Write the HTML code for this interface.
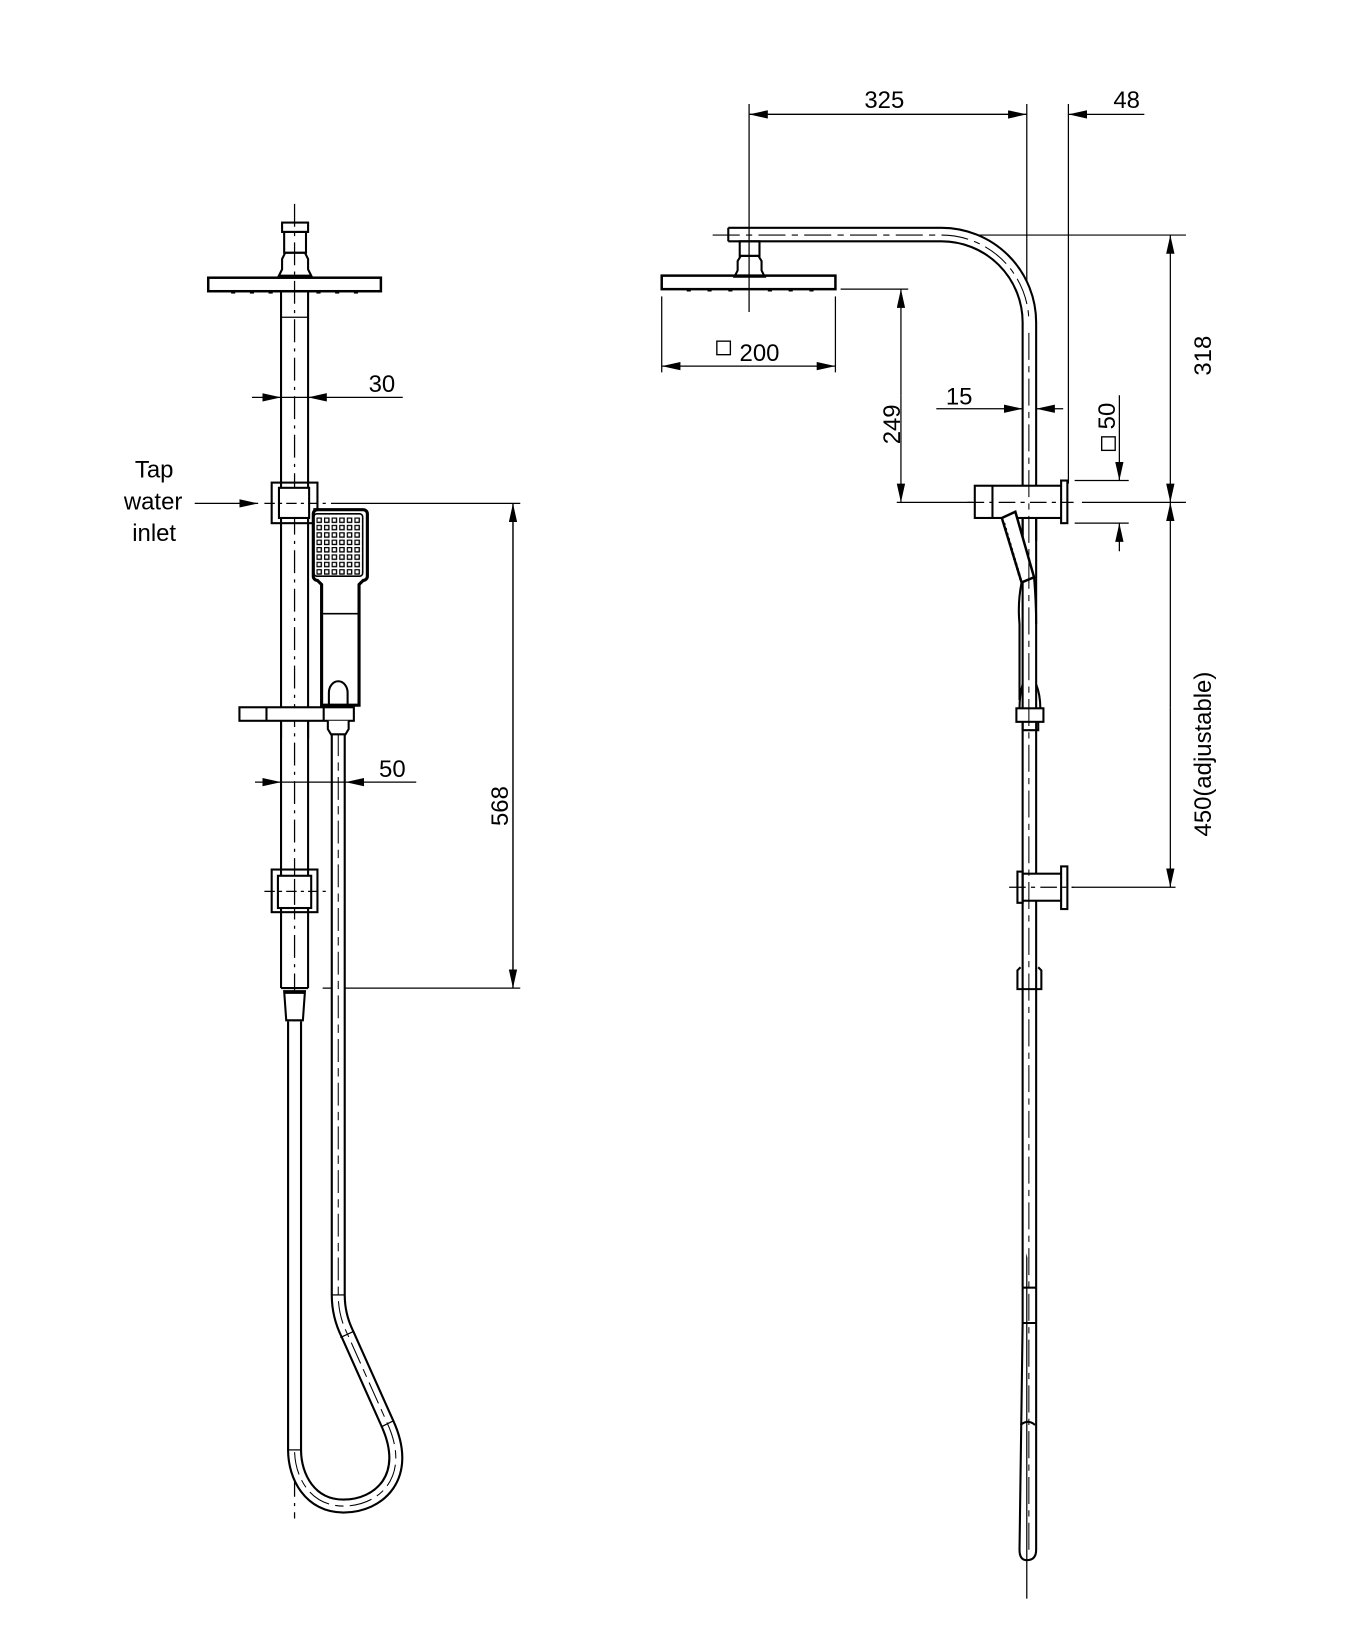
<!DOCTYPE html>
<html><head><meta charset="utf-8"><style>
html,body{margin:0;padding:0;background:#fff;}
svg{display:block;}
text{font-family:"Liberation Sans",sans-serif;fill:#000;}
</style></head><body>
<svg width="1364" height="1634" viewBox="0 0 1311 1571" xmlns="http://www.w3.org/2000/svg">
<defs>
<marker id="a" markerUnits="userSpaceOnUse" markerWidth="20" markerHeight="10" refX="18" refY="4" orient="auto"><path d="M0,0 L18,4 L0,8 Z" fill="#000"/></marker>
<pattern id="g" x="304" y="497.5" width="7.3" height="7.1" patternUnits="userSpaceOnUse"><rect x="0.5" y="0.5" width="4.2" height="4.2" fill="none" stroke="#000" stroke-width="1.3"/></pattern>
</defs>
<rect width="1311" height="1571" fill="#fff"/>
<g fill="none" stroke="#000" stroke-width="2">
<!-- ===== LEFT VIEW ===== -->
<line x1="283" y1="196" x2="283" y2="1460" stroke-width="1.2" stroke-dasharray="22,6,3,6"/>
<rect x="271" y="214" width="25" height="9"/>
<rect x="273" y="223" width="21" height="20"/>
<path d="M274,243 h19 l3,6 v10 l3,6 h-31 l3,-6 v-10 z"/>
<rect x="200" y="267" width="166" height="13" stroke-width="2.4"/>
<g stroke-width="2.5"><line x1="222" y1="281" x2="226" y2="281"/><line x1="240" y1="281" x2="244" y2="281"/><line x1="258" y1="281" x2="262" y2="281"/><line x1="304" y1="281" x2="308" y2="281"/><line x1="322" y1="281" x2="326" y2="281"/><line x1="340" y1="281" x2="344" y2="281"/></g>
<line x1="270" y1="280" x2="270" y2="950"/>
<line x1="296" y1="280" x2="296" y2="950"/>
<line x1="270" y1="305" x2="296" y2="305" stroke-width="1.2"/>
<line x1="270" y1="950" x2="296" y2="950"/>
<line x1="242" y1="382" x2="270" y2="382" marker-end="url(#a)" stroke-width="1.2"/>
<line x1="387" y1="382" x2="296" y2="382" marker-end="url(#a)" stroke-width="1.2"/>
<line x1="270" y1="382" x2="296" y2="382" stroke-width="1.2"/>
<line x1="187" y1="484" x2="248" y2="484" marker-end="url(#a)" stroke-width="1.2"/>
<rect x="261" y="464" width="44" height="39"/>
<rect x="268" y="469" width="29" height="29" fill="#fff"/>
<line x1="254" y1="484" x2="313" y2="484" stroke-width="1.2" stroke-dasharray="10,4,3,4"/>
<line x1="318" y1="484" x2="500" y2="484" stroke-width="1.2"/>
<line x1="493" y1="950" x2="493" y2="484" marker-end="url(#a)" stroke-width="1.2"/>
<line x1="493" y1="484" x2="493" y2="950" marker-end="url(#a)" stroke-width="1.2"/>
<line x1="310" y1="950" x2="500" y2="950" stroke-width="1.2"/>
<!-- handset -->
<path d="M301,490 h48 a4,4 0 0 1 4,4 v60 a4,4 0 0 1 -4,4 l-4,4 v18 v98 h-36 v-98 v-18 l-4,-4 a4,4 0 0 1 -4,-4 v-60 a4,4 0 0 1 4,-4 z" stroke-width="3" fill="#fff"/>
<rect x="301.5" y="494" width="47" height="60" rx="3" stroke-width="1.5"/>
<rect x="304" y="497.5" width="43.8" height="56.8" fill="url(#g)" stroke="none"/>
<line x1="309" y1="590" x2="345" y2="590" stroke-width="1.5"/>
<path d="M316,678 v-12 a9,11 0 0 1 18,0 v12" stroke-width="2"/>
<!-- hose -->
<path d="M325,705 V1245 Q325,1265 334,1283 L372,1368 C396,1420 364,1448 330,1448 C298,1448 283,1420 283,1394 V982" stroke-width="14.5"/>
<path d="M325,705 V1245 Q325,1265 334,1283 L372,1368 C396,1420 364,1448 330,1448 C298,1448 283,1420 283,1394 V982" stroke="#fff" stroke-width="10.4"/>
<path d="M325,705 V1245 Q325,1265 334,1283 L372,1368 C396,1420 364,1448 330,1448 C298,1448 283,1420 283,1394" stroke-width="1" stroke-dasharray="22,6,8,6"/>
<line x1="318" y1="1245" x2="332" y2="1245" stroke-width="1.2"/>
<line x1="277" y1="1394" x2="289" y2="1394" stroke-width="1.2"/>
<line x1="327" y1="1286" x2="340" y2="1280" stroke-width="1.2"/>
<line x1="366" y1="1372" x2="378" y2="1366" stroke-width="1.2"/>
<rect x="230" y="680" width="110" height="13" fill="#fff"/>
<line x1="256" y1="680" x2="256" y2="693"/><line x1="311" y1="680" x2="311" y2="693"/>
<line x1="270" y1="693" x2="270" y2="710"/><line x1="296" y1="693" x2="296" y2="710"/>
<path d="M315,693 v8 l3,5 h14 l3,-5 v-8" fill="#fff"/>
<line x1="245" y1="752" x2="270" y2="752" marker-end="url(#a)" stroke-width="1.2"/>
<line x1="400" y1="752" x2="332" y2="752" marker-end="url(#a)" stroke-width="1.2"/>
<line x1="270" y1="752" x2="332" y2="752" stroke-width="1.2"/>
<rect x="261" y="836" width="44" height="41"/>
<rect x="267" y="842" width="32" height="31" fill="#fff"/>
<line x1="254" y1="857" x2="313" y2="857" stroke-width="1.2" stroke-dasharray="10,4,3,4"/>
<line x1="283" y1="845" x2="283" y2="870" stroke-width="1.2"/>
<path d="M273,953 h20 l-2,28 h-16 z" fill="#fff"/>
<line x1="273" y1="954" x2="293" y2="954" stroke-width="3"/>

<!-- ===== RIGHT VIEW ===== -->
<line x1="987" y1="100" x2="987" y2="1537" stroke-width="1.2"/>
<path d="M700,219 H905 A91,91 0 0 1 996,310 V1238" fill="#fff"/>
<path d="M700,232 H905 A78,78 0 0 1 983,310 V1238"/>
<line x1="700" y1="219" x2="700" y2="232"/>
<path d="M685,226 H905 A84,84 0 0 1 989,310" stroke-width="1" stroke-dasharray="26,6,6,6"/>
<rect x="711" y="232" width="19" height="14"/>
<path d="M712,246 h17 l3,5 v9 l3,6 h-29 l3,-6 v-9 z"/>
<rect x="636" y="265" width="167" height="13" stroke-width="2.4"/>
<g stroke-width="2.5"><line x1="660" y1="279" x2="664" y2="279"/><line x1="680" y1="279" x2="684" y2="279"/><line x1="700" y1="279" x2="704" y2="279"/><line x1="738" y1="279" x2="742" y2="279"/><line x1="758" y1="279" x2="762" y2="279"/><line x1="778" y1="279" x2="782" y2="279"/></g>
<line x1="720" y1="226" x2="720" y2="300" stroke-width="1.2"/>
<line x1="720" y1="100" x2="720" y2="226" stroke-width="1.2"/>
<line x1="1027" y1="100" x2="1027" y2="465" stroke-width="1.2"/>
<line x1="987" y1="110" x2="720" y2="110" marker-end="url(#a)" stroke-width="1.2"/>
<line x1="720" y1="110" x2="987" y2="110" marker-end="url(#a)" stroke-width="1.2"/>
<line x1="1100" y1="110" x2="1027" y2="110" marker-end="url(#a)" stroke-width="1.2"/>
<line x1="636" y1="285" x2="636" y2="358" stroke-width="1.2"/>
<line x1="803" y1="285" x2="803" y2="358" stroke-width="1.2"/>
<line x1="720" y1="352" x2="636" y2="352" marker-end="url(#a)" stroke-width="1.2"/>
<line x1="720" y1="352" x2="803" y2="352" marker-end="url(#a)" stroke-width="1.2"/>
<rect x="689" y="328" width="13" height="13" stroke-width="1.3"/>
<line x1="808" y1="278" x2="873" y2="278" stroke-width="1.2"/>
<line x1="862" y1="483" x2="935" y2="483" stroke-width="1.2"/>
<line x1="866" y1="380" x2="866" y2="278" marker-end="url(#a)" stroke-width="1.2"/>
<line x1="866" y1="380" x2="866" y2="483" marker-end="url(#a)" stroke-width="1.2"/>
<line x1="900" y1="393" x2="983" y2="393" marker-end="url(#a)" stroke-width="1.2"/>
<line x1="1022" y1="393" x2="996" y2="393" marker-end="url(#a)" stroke-width="1.2"/>
<line x1="940" y1="226" x2="1140" y2="226" stroke-width="1.2"/>
<line x1="1040" y1="483" x2="1140" y2="483" stroke-width="1.2"/>
<line x1="1030" y1="853" x2="1130" y2="853" stroke-width="1.2"/>
<line x1="1125" y1="350" x2="1125" y2="226" marker-end="url(#a)" stroke-width="1.2"/>
<line x1="1125" y1="350" x2="1125" y2="483" marker-end="url(#a)" stroke-width="1.2"/>
<line x1="1125" y1="680" x2="1125" y2="483" marker-end="url(#a)" stroke-width="1.2"/>
<line x1="1125" y1="680" x2="1125" y2="853" marker-end="url(#a)" stroke-width="1.2"/>
<rect x="937" y="467" width="85" height="31" fill="#fff"/>
<line x1="954" y1="467" x2="954" y2="498"/>
<rect x="1020" y="462" width="6" height="41" fill="#fff"/>
<line x1="983" y1="498" x2="983" y2="520"/><line x1="996" y1="498" x2="996" y2="520"/>
<line x1="930" y1="483" x2="1032" y2="483" stroke-width="1.2" stroke-dasharray="16,5,4,5"/>
<line x1="1033" y1="462" x2="1085" y2="462" stroke-width="1.2"/>
<line x1="1033" y1="503" x2="1085" y2="503" stroke-width="1.2"/>
<line x1="1076" y1="380" x2="1076" y2="462" marker-end="url(#a)" stroke-width="1.2"/>
<line x1="1076" y1="530" x2="1076" y2="503" marker-end="url(#a)" stroke-width="1.2"/>
<rect x="1059" y="420" width="13" height="13" stroke-width="1.3"/>
<!-- handset side -->
<path d="M963,498 L976,492 L994,555 L982,560 Z" fill="#fff" stroke-width="2.4"/>
<path d="M965,503 L981,557" stroke-width="2.5" stroke-dasharray="2,3"/>
<path d="M982,560 Q978,580 980,600 V673 M994,555 Q996,580 996,600" fill="none"/>
<rect x="977" y="681" width="26" height="13" fill="#fff"/>
<path d="M980,681 Q980,668 983,658 M1000,681 Q1000,668 996,658"/>
<path d="M983,694 v8 h15 v-8"/>
<rect x="983" y="840" width="39" height="26" fill="#fff"/>
<rect x="1020" y="833" width="6" height="41" fill="#fff"/>
<rect x="978" y="838" width="5" height="30"/>
<line x1="970" y1="853" x2="1032" y2="853" stroke-width="1.2" stroke-dasharray="16,5,4,5"/>
<path d="M981,930 l-3,3 v18 h23 v-18 l-3,-3"/>
<line x1="983" y1="1238" x2="996" y2="1238"/>
<path d="M983,1238 V1272 M996,1238 V1272"/>
<path d="M983,1272 H996 M983,1272 L980,1490 Q980,1500 987,1500 Q996,1500 996,1490 V1272"/>
<path d="M981,1370 Q988,1364 995,1370"/>
<line x1="989" y1="320" x2="989" y2="1495" stroke-width="1" stroke-dasharray="26,6,6,6"/>
</g>
<g font-size="23">
<text x="148" y="459" text-anchor="middle">Tap</text>
<text x="147" y="490" text-anchor="middle">water</text>
<text x="148" y="520" text-anchor="middle">inlet</text>
<text x="367" y="377" text-anchor="middle">30</text>
<text x="377" y="747" text-anchor="middle">50</text>
<text transform="translate(488,775) rotate(-90)" text-anchor="middle">568</text>
<text x="850" y="104" text-anchor="middle">325</text>
<text x="1083" y="104" text-anchor="middle">48</text>
<text x="730" y="347" text-anchor="middle">200</text>
<text transform="translate(865,408) rotate(-90)" text-anchor="middle">249</text>
<text x="922" y="389" text-anchor="middle">15</text>
<text transform="translate(1072,400) rotate(-90)" text-anchor="middle">50</text>
<text transform="translate(1164,342) rotate(-90)" text-anchor="middle">318</text>
<text transform="translate(1164,725) rotate(-90)" text-anchor="middle">450(adjustable)</text>
</g>
</svg>
</body></html>
